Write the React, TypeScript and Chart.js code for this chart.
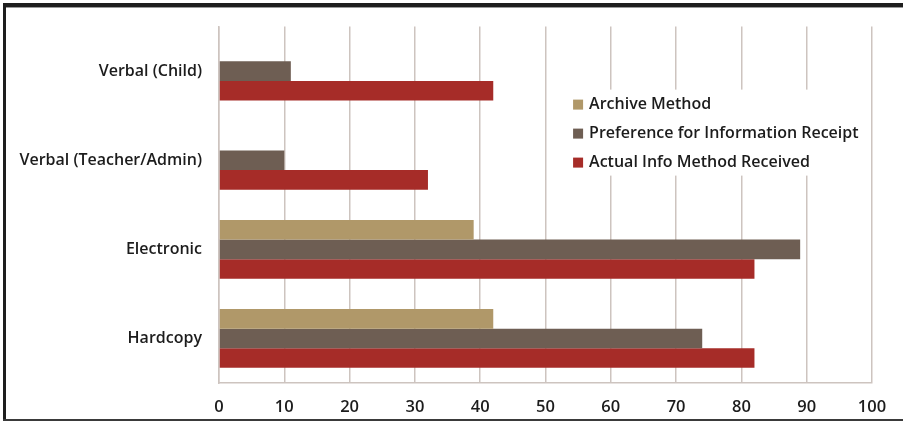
import React, { useEffect, useRef } from "react";
import { Chart, registerables } from "chart.js";

Chart.register(...registerables);

// Categories, top to bottom
const categories = ["Verbal (Child)", "Verbal (Teacher/Admin)", "Electronic", "Hardcopy"];

// Series values (percent)
const archiveMethod = [0, 0, 39, 42];
const preferenceForInfo = [11, 10, 89, 74];
const actualInfoReceived = [42, 32, 82, 82];

// Axis ticks
const xTicks = [0, 10, 20, 30, 40, 50, 60, 70, 80, 90, 100];

const seriesLabels = [
  "Archive Method",
  "Preference for Information Receipt",
  "Actual Info Method Received",
];
const seriesColors = ["#b09869", "#6e5e53", "#a62c28"];

const FONT = "'Open Sans', 'DejaVu Sans', sans-serif";
const TEXT = "#1c1c1c";
const GRID = "#cdc4bf";

// White background and the frame around the figure
const framePlugin = {
  id: "frame",
  beforeDraw(chart: Chart) {
    const { ctx, width, height } = chart;
    ctx.save();
    ctx.fillStyle = "#ffffff";
    ctx.fillRect(0, 0, width, height);
    // top rule
    ctx.fillStyle = "#1e1e1e";
    ctx.fillRect(3, 3, width - 3, 4);
    ctx.fillStyle = "#9a9a9a";
    ctx.fillRect(3, 7, width - 3, 1);
    // left rule
    ctx.fillStyle = "#1e1e1e";
    ctx.fillRect(3, 3, 3, height - 6);
    // bottom rule
    ctx.fillStyle = "#3a3a3a";
    ctx.fillRect(3, height - 5, width - 3, 2);
    ctx.restore();
  },
};

// Legend drawn inside the plot area on a white box
const insideLegendPlugin = {
  id: "insideLegend",
  afterDatasetsDraw(chart: Chart) {
    const { ctx, chartArea } = chart;
    const w = chartArea.right - chartArea.left;
    const boxX = chartArea.left + w * 0.53;
    const boxY = chartArea.top + 63;
    const boxW = 298;
    const boxH = 86;
    ctx.save();
    ctx.fillStyle = "#ffffff";
    ctx.fillRect(boxX, boxY, boxW, boxH);
    ctx.font = `600 16px ${FONT}`;
    ctx.textBaseline = "middle";
    chart.data.datasets.forEach((ds, i) => {
      const y = boxY + 15 + i * 29;
      ctx.fillStyle = ds.backgroundColor as string;
      ctx.fillRect(boxX + 8, y - 5, 10, 10);
      ctx.fillStyle = TEXT;
      ctx.fillText(String(ds.label), boxX + 24, y);
    });
    ctx.restore();
  },
};

export default function App() {
  const canvasRef = useRef<HTMLCanvasElement | null>(null);

  useEffect(() => {
    document.body.style.margin = "0";
    const canvas = canvasRef.current;
    if (!canvas) return;
    const values = [archiveMethod, preferenceForInfo, actualInfoReceived];
    const chart = new Chart(canvas, {
      type: "bar",
      data: {
        labels: categories,
        datasets: values.map((data, i) => ({
          label: seriesLabels[i],
          data,
          backgroundColor: seriesColors[i],
          borderWidth: 0,
          categoryPercentage: 0.66,
          barPercentage: 1.0,
        })),
      },
      options: {
        indexAxis: "y",
        responsive: false,
        devicePixelRatio: 1,
        animation: false,
        layout: { padding: { top: 24, right: 31, left: 0, bottom: 0 } },
        plugins: {
          legend: { display: false },
          tooltip: { enabled: false },
        },
        scales: {
          x: {
            min: 0,
            max: 100,
            afterBuildTicks(scale: any) {
              scale.ticks = xTicks.map((v) => ({ value: v }));
            },
            afterFit(scale: any) {
              scale.height = 41;
            },
            grid: {
              color: GRID,
              lineWidth: 1.5,
              drawTicks: false,
            },
            border: { display: true, color: GRID, width: 1.5 },
            ticks: {
              color: TEXT,
              padding: 14,
              font: { family: FONT, size: 16.5, weight: 600 },
            },
          },
          y: {
            afterFit(scale: any) {
              scale.width = 219;
            },
            grid: { display: false, drawTicks: false },
            border: { display: true, color: GRID, width: 1.5 },
            ticks: {
              color: TEXT,
              padding: 17,
              font: { family: FONT, size: 16, weight: 600 },
            },
          },
        },
      },
      plugins: [framePlugin, insideLegendPlugin],
    });
    return () => chart.destroy();
  }, []);

  return (
    <div style={{ width: 903, height: 424 }}>
      <canvas ref={canvasRef} width={903} height={424} />
    </div>
  );
}
